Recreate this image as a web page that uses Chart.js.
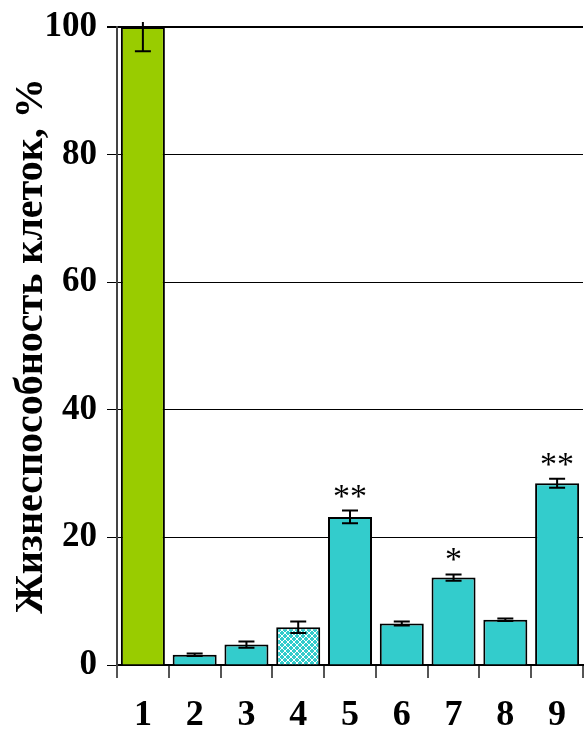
<!DOCTYPE html>
<html>
<head>
<meta charset="utf-8">
<script src="https://cdn.jsdelivr.net/npm/chart.js@4"></script>
<style>
  html, body { margin: 0; padding: 0; background: #fff; }
  #wrap { width: 584px; height: 731px; }
</style>
</head>
<body>
<div id="wrap"><canvas id="chart" width="584" height="731"></canvas></div>
<script>
// данные
const labels = ['1', '2', '3', '4', '5', '6', '7', '8', '9'];
const viability = [100, 1.6, 3.2, 5.9, 23.2, 6.5, 13.7, 7.1, 28.5];
const errors = [3.8, 0.2, 0.5, 0.9, 1.0, 0.3, 0.5, 0.2, 0.7];
const marks = ['', '', '', '', '**', '', '*', '', '**'];
const yTicks = [0, 20, 40, 60, 80, 100];

const GREEN = '#99cc00';
const CYAN = '#33cccc';

// штриховка для 4-го столбца
function makePattern() {
  const c = document.createElement('canvas');
  c.width = 6; c.height = 6;
  const g = c.getContext('2d');
  g.fillStyle = CYAN;
  g.fillRect(0, 0, 6, 6);
  g.strokeStyle = '#ffffff';
  g.lineWidth = 1;
  g.beginPath();
  g.moveTo(0, 0); g.lineTo(6, 6);
  g.moveTo(6, 0); g.lineTo(0, 6);
  g.stroke();
  return g.createPattern(c, 'repeat');
}
const hatch = makePattern();
const colors = labels.map((l, i) => i === 0 ? GREEN : (i === 3 ? hatch : CYAN));

const errorBars = {
  id: 'errorBars',
  afterDatasetsDraw(chart) {
    const ctx = chart.ctx;
    const meta = chart.getDatasetMeta(0);
    const y = chart.scales.y;
    ctx.save();
    ctx.strokeStyle = '#000';
    ctx.lineWidth = 2;
    meta.data.forEach((bar, i) => {
      const x = bar.x;
      const top = Math.max(y.getPixelForValue(viability[i] + errors[i]), chart.chartArea.top - 5);
      const bot = y.getPixelForValue(viability[i] - errors[i]);
      ctx.beginPath();
      ctx.moveTo(x, top); ctx.lineTo(x, bot);
      ctx.moveTo(x - 8, bot); ctx.lineTo(x + 8, bot);
      if (i !== 0) { ctx.moveTo(x - 8, top); ctx.lineTo(x + 8, top); }
      ctx.stroke();
      if (marks[i]) {
        ctx.fillStyle = '#000';
        ctx.font = '34px "Liberation Serif"';
        ctx.textAlign = 'center';
        ctx.textBaseline = 'alphabetic';
        ctx.fillText(marks[i], x, top - 4);
      }
    });
    ctx.restore();
  }
};

new Chart(document.getElementById('chart').getContext('2d'), {
  type: 'bar',
  data: {
    labels: labels,
    datasets: [{
      data: viability,
      backgroundColor: colors,
      borderColor: '#000',
      borderWidth: 2,
      borderSkipped: 'bottom',
      barPercentage: 0.85,
      categoryPercentage: 1.0
    }]
  },
  options: {
    responsive: false,
    animation: false,
    layout: { padding: { top: 27, right: 1, left: 0, bottom: 0 } },
    plugins: {
      legend: { display: false },
      tooltip: { enabled: false }
    },
    scales: {
      x: {
        grid: {
          offset: true,
          drawOnChartArea: false,
          drawTicks: true,
          tickLength: 13,
          color: '#555',
          lineWidth: 2
        },
        border: { color: '#000', width: 2 },
        ticks: {
          color: '#000',
          padding: 16,
          font: { family: '"Liberation Serif"', size: 36, weight: 'bold' }
        },
        afterFit(s) { s.height = 66; }
      },
      y: {
        min: 0,
        max: 100,
        afterBuildTicks(s) { s.ticks = yTicks.map(v => ({ value: v })); },
        grid: {
          color: '#000',
          lineWidth: ctx => ctx.tick && ctx.tick.value === 100 ? 2 : 1,
          tickLength: 10
        },
        border: { color: '#444', width: 2 },
        ticks: {
          color: '#000',
          padding: 10,
          font: { family: '"Liberation Serif"', size: 35, weight: 'bold' }
        },
        title: {
          display: true,
          text: 'Жизнеспособность клеток, %',
          color: '#000',
          padding: { top: 8, bottom: 0 },
          font: { family: '"Liberation Serif"', size: 40, weight: 'bold' }
        },
        afterFit(s) { s.width = 117; s.paddingTop = 0; s.paddingBottom = 0; }
      }
    }
  },
  plugins: [errorBars]
});
</script>
</body>
</html>
